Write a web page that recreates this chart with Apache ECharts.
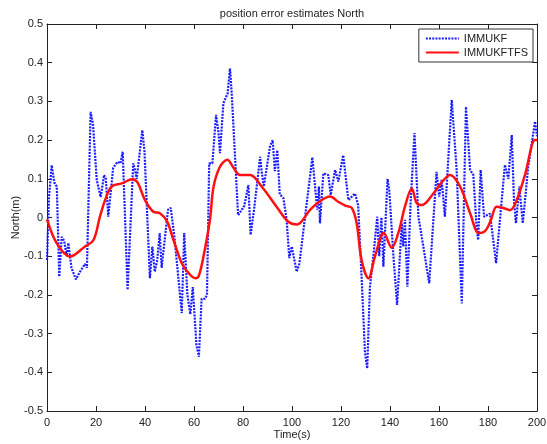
<!DOCTYPE html>
<html>
<head>
    <meta charset="utf-8">
    <title>position error estimates North</title>
</head>
<body style="margin:0;background:#fff;">
    <div id="main" style="width: 547px; height: 444px;"></div>
    <script src="https://cdn.jsdelivr.net/npm/echarts@6/dist/echarts.min.js"></script>
    <script type="text/javascript">
        // IMMUKF (blue dotted) - time (s) and north error (m)
        var ukfTime = [0, 0.8, 1.9, 3, 4, 5, 6, 7, 8, 8.7, 10, 11.8, 13.5, 15.5, 16.3, 17.8, 18.8, 20.3, 21.9, 23.3,
            24, 25, 27, 28.8, 30, 30.9, 32.9, 35.2, 36, 36.6, 38.9, 39.8, 42, 43, 44, 45, 46, 46.8, 48, 49.4,
            50.5, 52, 55, 56, 57.3, 58.5, 59.5, 61, 62, 63.1, 64.5, 65.3, 66.2, 67.5, 69, 70, 70.6, 72, 73.7, 74.7,
            75.4, 78, 79.5, 80.5, 82.2, 83.1, 84.5, 87, 87.6, 88.5, 91, 92.1, 93, 94, 95, 96.5, 97.8, 98.9, 99.9, 101.9,
            103, 105.3, 108.3, 110.3, 111, 111.4, 112.8, 114.8, 115.8, 117.6, 118.9, 120.9, 123, 125.7, 127, 128.4, 129.8, 130.7,
            131.8, 133.2, 134.8, 135.6, 136.5, 137.3, 139, 139.7, 141.4, 142.9, 144.8, 145.4, 146.1, 147.1, 148.4, 150,
            151.6, 153.6, 156, 159, 160.1, 161.1, 162.4, 165.2, 167.2, 169.3, 171, 172.7, 174, 175.4, 176, 177,
            178.4, 180.8, 183.3, 186.9, 188.3, 189.7, 190.6, 191.4, 192.8, 194.2, 196.4, 199.2, 200];
        var ukfNorth = [-0.11, 0.05, 0.135, 0.09, 0.08, -0.153, -0.05, -0.06, -0.1, -0.066, -0.13, -0.16, -0.14, -0.12, -0.13, 0.273, 0.24, 0.097, 0.053, 0.11,
            0.1, 0.002, 0.128, 0.144, 0.14, 0.17, -0.187, 0.14, 0.12, 0.1, 0.226, 0.17, -0.157, -0.075, -0.14, -0.11, -0.04, -0.13, -0.06, 0.02,
            0.025, -0.05, -0.247, -0.04, -0.2, -0.25, -0.18, -0.33, -0.36, -0.21, -0.21, -0.2, 0.14, 0.14, 0.265, 0.22, 0.166, 0.296, 0.32, 0.385,
            0.32, 0.006, 0.02, 0.03, 0.084, -0.045, 0.02, 0.157, 0.12, 0.08, 0.183, 0.2, 0.12, 0.174, 0.06, 0.05, -0.006, -0.105, -0.075, -0.14,
            -0.12, 0.0, 0.155, 0.02, 0.08, -0.015, 0.114, 0.11, 0.058, 0.123, 0.093, 0.161, 0.045, 0.062, 0.032, -0.153, -0.35, -0.39,
            -0.18, -0.1, 0.002, -0.1, 0.0, -0.127, 0.1, 0.07, -0.1, -0.226, -0.015, -0.075, -0.006, -0.179, 0.037, 0.218,
            0.002, -0.075, -0.17, 0.118, 0.054, 0.097, 0.002, 0.304, 0.123, -0.222, 0.286, 0.123, 0.11, -0.03, -0.058, 0.123,
            0.002, 0.01, -0.118, 0.136, 0.1, 0.213, 0.045, -0.015, 0.08, -0.015, 0.13, 0.248, 0.21];

        // IMMUKFTFS (red solid)
        var tfsTime = [0, 4, 9.4, 15.5, 19, 21.6, 24, 26.4, 30.5, 34.8, 37, 40, 43.4, 46.1, 49, 51.6, 55, 58, 60.5, 62,
            64.1, 66.5, 68, 70.6, 73.6, 76, 78.8, 82.9, 87.6, 93.7, 98.5, 102, 107.3, 111, 115.5, 119, 122, 124.4, 126.4, 128.4,
            131.2, 133.9, 137.5, 140.7, 143.4, 146.1, 148.9, 150.9, 152.9, 157.7, 161, 164.5, 168.6, 172.7, 176.3, 178.8, 181, 183.5,
            186, 189, 191.7, 195.1, 199.2, 200];
        var tfsNorth = [-0.005, -0.067, -0.101, -0.075, -0.058, 0.002, 0.05, 0.08, 0.088, 0.099, 0.09, 0.045, 0.015, 0.011, -0.01, -0.058, -0.118, -0.145, -0.157, -0.15,
            -0.093, -0.006, 0.08, 0.131, 0.149, 0.13, 0.11, 0.11, 0.08, 0.028, -0.011, -0.018, 0.019, 0.04, 0.054, 0.04, 0.03, 0.025, -0.015, -0.11,
            -0.157, -0.1, -0.04, -0.078, -0.04, 0.028, 0.075, 0.037, 0.032, 0.062, 0.09, 0.11, 0.08, 0.011, -0.04, -0.035, -0.01, 0.028,
            0.025, 0.019, 0.045, 0.11, 0.2, 0.2];

        var seriesNames = ['IMMUKF', 'IMMUKFTFS'];
        var xTicks = [0, 20, 40, 60, 80, 100, 120, 140, 160, 180, 200];
        var yTicks = ['-0.5', '-0.4', '-0.3', '-0.2', '-0.1', '0', '0.1', '0.2', '0.3', '0.4', '0.5'];

        function pairs(xs, ys) {
            return xs.map(function (x, i) { return [x, ys[i]]; });
        }

        var chartDom = document.getElementById('main');
        var myChart = echarts.init(chartDom);
        var font = 'Liberation Sans, Arial, sans-serif';

        var axisBase = {
            axisLine: { show: true, onZero: false, lineStyle: { color: '#222', width: 1 } },
            axisTick: { show: true, inside: true, length: 5, lineStyle: { color: '#222' } },
            splitLine: { show: false }
        };

        var option = {
            animation: false,
            backgroundColor: '#fff',
            title: {
                text: 'position error estimates North',
                left: 287, top: 3, textAlign: 'center',
                textStyle: { fontFamily: font, fontSize: 11, fontWeight: 'normal', color: '#222' }
            },
            legend: {
                data: seriesNames,
                orient: 'vertical',
                right: 14, top: 29,
                backgroundColor: '#fff',
                borderColor: '#333', borderWidth: 1, borderRadius: 0,
                padding: [4, 5, 4, 6],
                itemGap: 3, itemWidth: 33, itemHeight: 10,
                itemStyle: { opacity: 0, borderWidth: 0 },
                textStyle: { fontFamily: font, fontSize: 11, color: '#222' }
            },
            grid: { left: 47, right: 10, top: 24, bottom: 33, outerBoundsMode: 'none' },
            xAxis: [
                Object.assign({}, axisBase, {
                    type: 'value', min: 0, max: 200, interval: 20, position: 'bottom',
                    name: 'Time(s)', nameLocation: 'middle', nameGap: 18, nameMoveOverlap: false,
                    nameTextStyle: { fontFamily: font, fontSize: 11, color: '#222' },
                    axisLabel: {
                        fontFamily: font, fontSize: 11, color: '#222', margin: 6,
                        formatter: function (v) { return xTicks.indexOf(v) >= 0 ? String(v) : ''; }
                    }
                }),
                Object.assign({}, axisBase, {
                    type: 'value', min: 0, max: 200, interval: 20, position: 'top',
                    axisLabel: { show: false }
                })
            ],
            yAxis: [
                Object.assign({}, axisBase, {
                    type: 'value', min: -0.5, max: 0.5, interval: 0.1, position: 'left',
                    name: 'North(m)', nameLocation: 'middle', nameGap: 26, nameRotate: 90, nameMoveOverlap: false,
                    nameTextStyle: { fontFamily: font, fontSize: 11, color: '#222' },
                    axisLabel: {
                        fontFamily: font, fontSize: 11, color: '#222', margin: 4,
                        formatter: function (v) { return yTicks[Math.round((v + 0.5) * 10)]; }
                    }
                }),
                Object.assign({}, axisBase, {
                    type: 'value', min: -0.5, max: 0.5, interval: 0.1, position: 'right',
                    axisLabel: { show: false }
                })
            ],
            series: [
                {
                    name: seriesNames[0],
                    type: 'line',
                    data: pairs(ukfTime, ukfNorth),
                    symbol: 'none',
                    color: '#1a1aff',
                    lineStyle: { color: '#1a1aff', width: 2.2, type: [2, 1.2] },
                    z: 2
                },
                {
                    name: seriesNames[1],
                    type: 'line',
                    data: pairs(tfsTime, tfsNorth),
                    symbol: 'none',
                    smooth: 0.35,
                    color: '#ff1010',
                    lineStyle: { color: '#ff1010', width: 2.5 },
                    z: 3
                }
            ]
        };

        myChart.setOption(option);
    </script>
</body>
</html>
